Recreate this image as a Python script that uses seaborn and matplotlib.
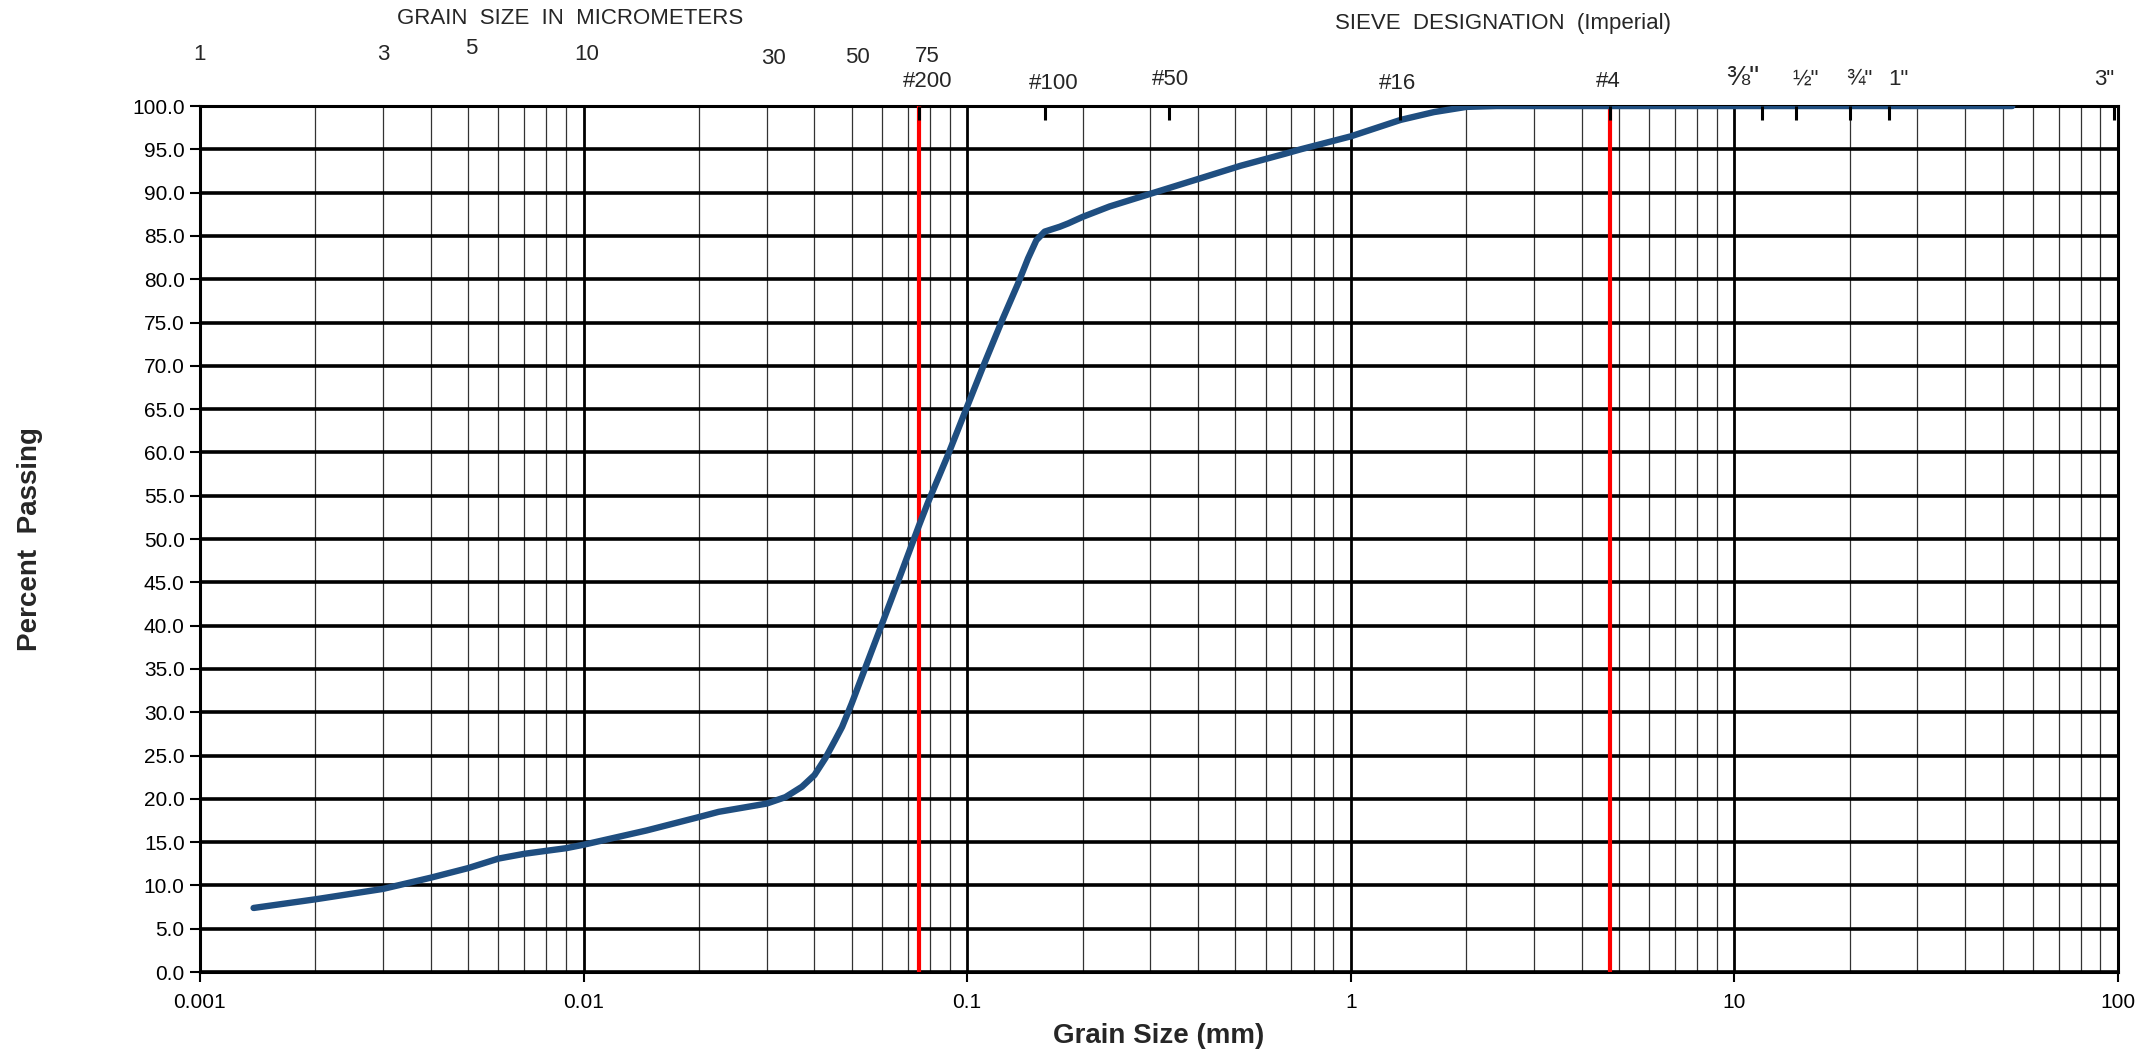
import numpy as np
import pandas as pd
import matplotlib
matplotlib.use("Agg")
import matplotlib.pyplot as plt
import seaborn as sns
from matplotlib.ticker import LogLocator, FixedLocator, NullFormatter, FuncFormatter

# ---------------- data ----------------
grain_size_mm = [0.00138, 0.002, 0.003, 0.004, 0.005, 0.006, 0.007, 0.008, 0.009, 0.01,
                 0.0146, 0.02, 0.0225, 0.03, 0.0336, 0.0371, 0.04, 0.0427, 0.0453, 0.0472,
                 0.05, 0.0634, 0.0748, 0.079, 0.0891, 0.1, 0.11, 0.124, 0.1357, 0.1441,
                 0.1515, 0.1592, 0.1743, 0.1835, 0.2, 0.235, 0.302, 0.395, 0.516, 0.675,
                 0.74, 1.0, 1.349, 1.647, 2.0, 2.4, 53.0]
percent_passing = [7.4, 8.4, 9.6, 10.9, 12.0, 13.1, 13.65, 14.0, 14.3, 14.7,
                   16.35, 17.9, 18.5, 19.45, 20.2, 21.4, 22.75, 24.7, 26.8, 28.3,
                   31.0, 43.0, 51.5, 54.2, 59.7, 65.3, 69.9, 75.5, 79.5, 82.4,
                   84.5, 85.5, 86.06, 86.45, 87.2, 88.4, 89.9, 91.5, 93.1, 94.5,
                   95.0, 96.5, 98.4, 99.3, 99.9, 100.0, 100.0]

red_lines_mm = [0.075, 4.75]

micron_labels = ["1", "3", "5", "10", "30", "50", "75"]
micron_pos_mm = [0.001, 0.003, 0.0051, 0.0102, 0.0313, 0.0517, 0.0787]
micron_y = [1.059, 1.059, 1.066, 1.059, 1.055, 1.056, 1.057]

sieve_labels = ["#200", "#100", "#50", "#16", "#4", "⅜\"", "½\"", "¾\"", "1\"", "3\""]
sieve_label_pos_mm = [0.0787, 0.168, 0.339, 1.32, 4.69, 10.5, 15.3, 21.2, 26.7, 91.8]
sieve_label_y = [1.028, 1.026, 1.031, 1.026, 1.028, 1.032, 1.031, 1.031, 1.031, 1.031]
sieve_tick_mm = [0.075, 0.16, 0.335, 1.34, 4.75, 11.8, 14.5, 20.0, 25.3, 97.6]

# ---------------- style ----------------
sns.set_theme(style="white")
plt.rcParams['font.family'] = ['Liberation Sans Narrow', 'Liberation Sans', 'DejaVu Sans']

fig = plt.figure(figsize=(21.52, 10.52), dpi=100)
ax = fig.add_axes([0.0929, 0.0760, 0.8913, 0.8232])

df = pd.DataFrame({"size": grain_size_mm, "passing": percent_passing})

ax.set_xscale("log")
ax.set_xlim(0.001, 100)
ax.set_ylim(0, 100)

# grid
ax.xaxis.set_major_locator(LogLocator(base=10, numticks=10))
ax.xaxis.set_minor_locator(LogLocator(base=10, subs=np.arange(2, 10), numticks=100))
ax.xaxis.set_minor_formatter(NullFormatter())
ax.xaxis.set_major_formatter(FuncFormatter(lambda v, p: f"{v:g}"))
ax.yaxis.set_major_locator(FixedLocator(np.arange(0, 100.1, 5)))
ax.yaxis.set_major_formatter(FuncFormatter(lambda v, p: f"{v:.1f}"))

ax.grid(True, which="major", axis="y", color="black", linewidth=2.6, zorder=1)
ax.grid(True, which="major", axis="x", color="black", linewidth=2.0, zorder=1)
ax.grid(True, which="minor", axis="x", color="#333333", linewidth=0.9, zorder=1)
ax.set_axisbelow(True)

for v in red_lines_mm:
    ax.axvline(v, color="#ff0000", linewidth=3.0, zorder=3)

sns.lineplot(data=df, x="size", y="passing", ax=ax, color="#1f4e80",
             linewidth=4.6, sort=False, zorder=4)

for s in ax.spines.values():
    s.set_color("black")
    s.set_linewidth(2.2)

ax.tick_params(axis="both", which="major", direction="out", length=7, width=1.5,
               colors="black", labelsize=15, pad=4)
ax.tick_params(axis="x", which="minor", length=0)
ax.tick_params(axis="x", which="major", pad=8)
ax.tick_params(left=True, bottom=True)

ax.set_xlabel("Grain Size (mm)", fontsize=20, fontweight="bold",
              family=['Liberation Sans', 'DejaVu Sans'], labelpad=8)
ax.set_ylabel("Percent  Passing", fontsize=20, fontweight="bold",
              family=['Liberation Sans', 'DejaVu Sans'], labelpad=64)

# top ticks for sieves
top = ax.twiny()
top.set_xscale("log")
top.set_xlim(ax.get_xlim())
top.xaxis.set_major_locator(FixedLocator(sieve_tick_mm))
top.xaxis.set_minor_locator(FixedLocator([]))
top.xaxis.set_major_formatter(NullFormatter())
top.tick_params(axis="x", direction="in", length=10, width=2.2, colors="black", top=True)
for s in top.spines.values():
    s.set_visible(False)

trans = ax.get_xaxis_transform()
for lab, x, y in zip(micron_labels, micron_pos_mm, micron_y):
    ax.text(x, y, lab, transform=trans, ha="center", va="center", fontsize=16)
for lab, x, y in zip(sieve_labels, sieve_label_pos_mm, sieve_label_y):
    fs = 20 if lab.startswith("⅜") else 16
    ax.text(x, y, lab, transform=trans, ha="center", va="center", fontsize=fs,
            family=['Liberation Sans Narrow', 'Liberation Sans', 'DejaVu Sans'])

fig.text(570 / 2152, 1 - 19 / 1052, "GRAIN  SIZE  IN  MICROMETERS", ha="center",
         va="center", fontsize=16)
fig.text(1503 / 2152, 1 - 23 / 1052, "SIEVE  DESIGNATION  (Imperial)", ha="center",
         va="center", fontsize=16)

fig.savefig("out.png", dpi=100, facecolor="white")
